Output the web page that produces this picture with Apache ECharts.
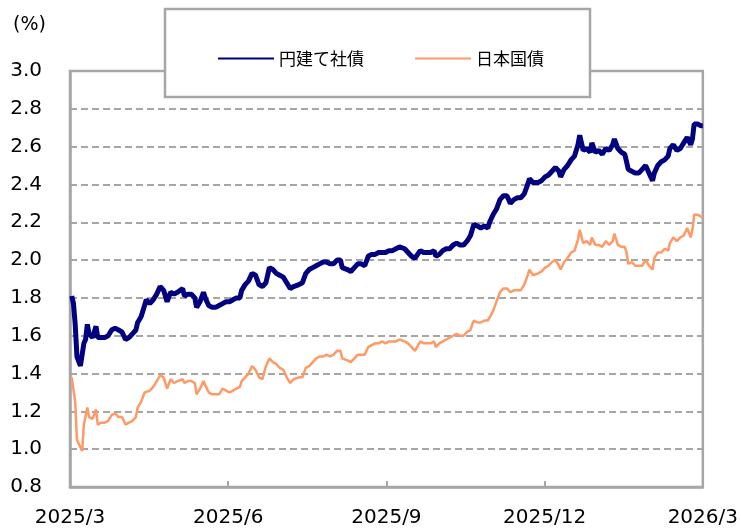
<!DOCTYPE html>
<html>
<head>
<meta charset="utf-8">
<script src="https://cdn.jsdelivr.net/npm/echarts@6/dist/echarts.min.js"></script>
<style>
  html, body { margin: 0; padding: 0; background: #fff; }
</style>
</head>
<body>
<div id="chart" style="width: 741px;height: 530px;"></div>
<script>
  // 日数（2025/3/1 からの経過日）
  const dayOffsets = [
    1, 2, 3, 4, 6, 7, 8, 9, 10, 11,
    13, 14, 15, 16, 18, 20, 22, 24, 26, 28,
    30, 32, 34, 36, 38, 39, 41, 43, 44, 46,
    48, 50, 52, 54, 56, 58, 60, 62, 65, 66,
    68, 70, 72, 73, 75, 77, 78, 80, 82, 84,
    86, 88, 90, 92, 94, 96, 98, 99, 101, 103,
    105, 107, 109, 111, 113, 115, 117, 119, 121, 123,
    125, 127, 129, 132, 134, 136, 138, 140, 142, 144,
    146, 148, 150, 152, 154, 156, 157, 160, 162, 164,
    166, 168, 170, 172, 174, 176, 178, 180, 182, 184,
    186, 188, 190, 191, 193, 195, 197, 199, 200, 202,
    204, 206, 208, 210, 211, 213, 215, 217, 219, 221,
    223, 225, 227, 229, 231, 232, 233, 235, 237, 239,
    241, 242, 244, 246, 248, 250, 252, 254, 256, 258,
    260, 262, 264, 265, 267, 270, 272, 274, 276, 278,
    280, 282, 283, 285, 287, 289, 291, 293, 294, 296,
    298, 300, 301, 303, 305, 307, 309, 311, 313, 314,
    316, 318, 320, 321, 322, 324, 326, 328, 330, 332,
    334, 336, 337, 339, 341, 343, 345, 346, 348, 350,
    352, 354, 356, 358, 359, 360, 362, 364, 365
  ]
  // 円建て社債
  const corpYield = [
    1.81, 1.77, 1.66, 1.49, 1.44, 1.43, 1.56, 1.58, 1.66, 1.61,
    1.59, 1.62, 1.65, 1.59, 1.59, 1.59, 1.60, 1.63, 1.64, 1.63,
    1.62, 1.58, 1.59, 1.61, 1.63, 1.67, 1.70, 1.76, 1.79, 1.77,
    1.79, 1.82, 1.86, 1.84, 1.78, 1.83, 1.82, 1.83, 1.85, 1.81,
    1.82, 1.82, 1.80, 1.75, 1.78, 1.83, 1.80, 1.76, 1.75, 1.75,
    1.76, 1.77, 1.78, 1.78, 1.79, 1.80, 1.80, 1.84, 1.87, 1.89,
    1.93, 1.92, 1.87, 1.86, 1.88, 1.96, 1.95, 1.93, 1.92, 1.91,
    1.88, 1.85, 1.86, 1.87, 1.88, 1.93, 1.95, 1.96, 1.97, 1.98,
    1.99, 1.99, 1.98, 1.98, 2.00, 2.00, 1.96, 1.95, 1.94, 1.96,
    1.98, 1.98, 1.97, 2.02, 2.03, 2.03, 2.04, 2.04, 2.04, 2.05,
    2.05, 2.06, 2.07, 2.08, 2.06, 2.04, 2.02, 2.01, 2.02, 2.05,
    2.04, 2.04, 2.04, 2.05, 2.02, 2.03, 2.05, 2.06, 2.06, 2.08,
    2.09, 2.08, 2.08, 2.10, 2.13, 2.16, 2.19, 2.18, 2.17, 2.18,
    2.17, 2.20, 2.24, 2.27, 2.32, 2.34, 2.34, 2.30, 2.32, 2.33,
    2.33, 2.35, 2.40, 2.43, 2.41, 2.41, 2.42, 2.44, 2.45, 2.47,
    2.49, 2.47, 2.44, 2.48, 2.50, 2.53, 2.55, 2.61, 2.66, 2.58,
    2.59, 2.57, 2.62, 2.57, 2.58, 2.56, 2.59, 2.58, 2.61, 2.64,
    2.59, 2.57, 2.56, 2.52, 2.48, 2.47, 2.46, 2.46, 2.48, 2.50,
    2.46, 2.42, 2.46, 2.50, 2.52, 2.53, 2.55, 2.59, 2.61, 2.58,
    2.59, 2.62, 2.65, 2.61, 2.64, 2.72, 2.72, 2.71, 2.71
  ]
  // 日本国債
  const jgbYield = [
    1.38, 1.37, 1.25, 1.05, 1.01, 0.99, 1.13, 1.13, 1.22, 1.17,
    1.16, 1.16, 1.21, 1.13, 1.14, 1.14, 1.15, 1.18, 1.19, 1.17,
    1.17, 1.13, 1.14, 1.15, 1.17, 1.22, 1.25, 1.30, 1.30, 1.31,
    1.33, 1.36, 1.39, 1.38, 1.32, 1.37, 1.35, 1.36, 1.37, 1.35,
    1.36, 1.36, 1.35, 1.29, 1.32, 1.36, 1.35, 1.30, 1.29, 1.29,
    1.29, 1.32, 1.31, 1.30, 1.31, 1.32, 1.33, 1.36, 1.38, 1.40,
    1.44, 1.42, 1.38, 1.37, 1.44, 1.48, 1.46, 1.45, 1.43, 1.42,
    1.38, 1.35, 1.37, 1.38, 1.38, 1.43, 1.44, 1.46, 1.48, 1.49,
    1.49, 1.50, 1.49, 1.50, 1.52, 1.52, 1.48, 1.47, 1.46, 1.48,
    1.50, 1.50, 1.50, 1.54, 1.55, 1.56, 1.56, 1.57, 1.56, 1.57,
    1.57, 1.57, 1.58, 1.59, 1.57, 1.56, 1.54, 1.52, 1.53, 1.57,
    1.56, 1.56, 1.56, 1.57, 1.54, 1.56, 1.57, 1.58, 1.59, 1.60,
    1.61, 1.60, 1.60, 1.62, 1.63, 1.66, 1.68, 1.67, 1.67, 1.68,
    1.68, 1.67, 1.73, 1.78, 1.83, 1.85, 1.85, 1.83, 1.84, 1.84,
    1.84, 1.87, 1.92, 1.95, 1.92, 1.93, 1.94, 1.96, 1.97, 1.99,
    2.00, 1.97, 1.95, 1.99, 2.01, 2.04, 2.05, 2.11, 2.16, 2.09,
    2.10, 2.08, 2.12, 2.08, 2.08, 2.07, 2.10, 2.08, 2.10, 2.14,
    2.08, 2.07, 2.07, 2.04, 1.98, 1.99, 1.97, 1.97, 1.97, 2.00,
    1.97, 1.95, 2.01, 2.04, 2.04, 2.06, 2.05, 2.09, 2.12, 2.10,
    2.12, 2.13, 2.17, 2.12, 2.16, 2.24, 2.24, 2.23, 2.22
  ]
  const tickLabels = ['2025/3', '2025/6', '2025/9', '2025/12', '2026/3']

  const font = 'DejaVu Sans, Verdana, Noto Sans CJK JP, sans-serif'
  const gray = '#a6a6a6'

  let myChart = echarts.init(document.getElementById('chart'))
  myChart.setOption({
    animation: false,
    title: {
      text: '(%)',
      left: 8,
      top: 11,
      textStyle: { fontWeight: 'normal', fontSize: 19, color: '#000', fontFamily: font }
    },
    grid: {
      left: 70, right: 38, top: 71, bottom: 43,
      show: true, borderColor: gray, borderWidth: 2.5
    },
    // 凡例の枠
    graphic: [{
      type: 'rect',
      z: 3,
      shape: { x: 165, y: 9, width: 425, height: 88 },
      style: { fill: '#fff', stroke: gray, lineWidth: 2.5 }
    }],
    legend: {
      left: 212,
      top: 45,
      itemWidth: 56,
      itemHeight: 14,
      itemGap: 50,
      z: 5,
      itemStyle: { opacity: 0 },
      textStyle: { fontSize: 17, color: '#000', fontFamily: 'Noto Sans CJK JP, sans-serif' },
      data: ['円建て社債', '日本国債']
    },
    xAxis: {
      type: 'value',
      min: 0,
      max: 365,
      interval: 91.25,
      axisLine: { lineStyle: { color: gray, width: 2.5 } },
      axisTick: { inside: true, length: 6, lineStyle: { color: gray, width: 2 } },
      splitLine: { show: false },
      axisLabel: {
        margin: 21,
        fontSize: 20,
        color: '#000',
        fontFamily: font,
        formatter: function (v) {
          return tickLabels[Math.round(v / 91.25)]
        }
      }
    },
    yAxis: {
      type: 'value',
      min: 0.8,
      max: 3.0,
      interval: 0.2,
      axisLine: { show: true, lineStyle: { color: gray, width: 2.5 } },
      axisTick: { show: false },
      splitLine: { lineStyle: { color: gray, width: 2, type: [7, 4] } },
      axisLabel: {
        margin: 28,
        fontSize: 20,
        color: '#000',
        fontFamily: font,
        formatter: function (v) { return v.toFixed(1) }
      }
    },
    series: [{
      name: '円建て社債',
      type: 'line',
      symbol: 'none',
      color: '#000080',
      lineStyle: { color: '#000080', width: 5 },
      data: dayOffsets.map((d, i) => [d, corpYield[i]])
    }, {
      name: '日本国債',
      type: 'line',
      symbol: 'none',
      color: '#ff9966',
      lineStyle: { color: '#ff9966', width: 2.5 },
      data: dayOffsets.map((d, i) => [d, jgbYield[i]])
    }]
  })
</script>
</body>
</html>
